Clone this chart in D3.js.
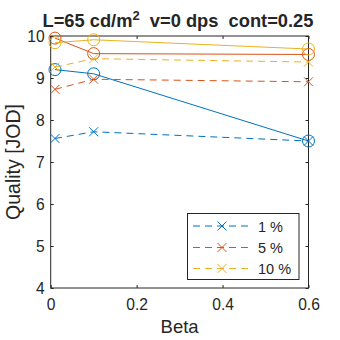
<!DOCTYPE html>
<html><head><meta charset="utf-8">
<script src="https://cdn.jsdelivr.net/npm/d3@7"></script>
<style>body{margin:0;background:#fff}svg{display:block}text{font-family:"Liberation Sans",Arial,sans-serif;fill:#262626}</style>
</head><body>
<svg id="c" width="340" height="340"></svg>
<script>
const betas = [0.01, 0.1, 0.6];
const seriesNames = ["1 %", "5 %", "10 %"];
const colors = ["#0072BD", "#D95319", "#EDB120"];
const solid1 = [9.2, 9.1, 7.5];
const solid5 = [9.95, 9.58, 9.56];
const solid10 = [9.84, 9.91, 9.69];
const dash1 = [7.56, 7.72, 7.5];
const dash5 = [8.73, 8.97, 8.91];
const dash10 = [9.26, 9.46, 9.38];
const xTicks = [0, 0.2, 0.4, 0.6];
const yTicks = [4, 5, 6, 7, 8, 9, 10];
const titleMain = "L=65 cd/m";
const titleSup = "2";
const titleRest = "  v=0 dps  cont=0.25";
const xLabel = "Beta";
const yLabel = "Quality [JOD]";

const svg = d3.select("#c");
const L = 50.7, R = 308.5, T = 36, B = 288;
const x = d3.scaleLinear().domain([0, 0.6]).range([L, R]);
const y = d3.scaleLinear().domain([4, 10]).range([B, T]);

const solids = [solid1, solid5, solid10];
const dashes = [dash1, dash5, dash10];
const line = d3.line().x((d, i) => x(betas[i])).y(d => y(d));
const TF = 15.6;

const ax = svg.append("g");
ax.append("g").attr("transform", `translate(0,${B})`)
  .call(d3.axisBottom(x).tickValues(xTicks).tickSizeInner(-3).tickSizeOuter(0).tickPadding(11).tickFormat(d3.format("")))
  .call(g => { g.select(".domain").remove(); g.selectAll("text").attr("font-size", TF).attr("fill", "#262626"); g.selectAll("line").attr("stroke", "#262626"); });
ax.append("g").attr("transform", `translate(0,${T})`)
  .call(d3.axisTop(x).tickValues(xTicks).tickSizeInner(-3).tickSizeOuter(0).tickFormat(""))
  .call(g => { g.select(".domain").remove(); g.selectAll("line").attr("stroke", "#262626"); });
ax.append("g").attr("transform", `translate(${L},0)`)
  .call(d3.axisLeft(y).tickValues(yTicks).tickSizeInner(-3).tickSizeOuter(0).tickPadding(6).tickFormat(d3.format("d")))
  .call(g => { g.select(".domain").remove(); g.selectAll("text").attr("font-size", TF).attr("fill", "#262626"); g.selectAll("line").attr("stroke", "#262626"); });
ax.append("g").attr("transform", `translate(${R},0)`)
  .call(d3.axisRight(y).tickValues(yTicks).tickSizeInner(-3).tickSizeOuter(0).tickFormat(""))
  .call(g => { g.select(".domain").remove(); g.selectAll("line").attr("stroke", "#262626"); });
ax.append("rect").attr("x", L).attr("y", T).attr("width", R - L).attr("height", B - T)
  .attr("fill", "none").attr("stroke", "#262626").attr("stroke-width", 1);

function cross(g, cx, cy, s, col) {
  g.append("path").attr("d", `M${cx - s},${cy - s}L${cx + s},${cy + s}M${cx - s},${cy + s}L${cx + s},${cy - s}`)
    .attr("stroke", col).attr("stroke-width", 1).attr("fill", "none");
}

const plot = svg.append("g");
[0, 1, 2].forEach(k => {
  const col = colors[k];
  plot.append("path").attr("d", line(solids[k])).attr("fill", "none").attr("stroke", col).attr("stroke-width", 1);
  solids[k].forEach((v, i) => plot.append("circle").attr("cx", x(betas[i])).attr("cy", y(v)).attr("r", 6)
    .attr("fill", "none").attr("stroke", col).attr("stroke-width", 1));
  plot.append("path").attr("d", line(dashes[k])).attr("fill", "none").attr("stroke", col).attr("stroke-width", 1)
    .attr("stroke-dasharray", "7,5");
  dashes[k].forEach((v, i) => cross(plot, x(betas[i]), y(v), 4.5, col));
});

const t = svg.append("text").attr("x", 178).attr("y", 26.5).attr("text-anchor", "middle")
  .attr("font-size", 18.3).attr("font-weight", "bold").style("white-space", "pre");
t.append("tspan").text(titleMain);
t.append("tspan").attr("dy", -7).attr("font-size", 13).text(titleSup);
t.append("tspan").attr("dy", 7).text(titleRest);

svg.append("text").attr("x", (L + R) / 2).attr("y", 333).attr("text-anchor", "middle").attr("font-size", 18.5).text(xLabel);
svg.append("text").attr("transform", `translate(19.5,${(T + B) / 2}) rotate(-90)`).attr("text-anchor", "middle")
  .attr("font-size", 19.5).text(yLabel);

const lg = svg.append("g");
lg.append("rect").attr("x", 187.5).attr("y", 213.5).attr("width", 111.5).attr("height", 66)
  .attr("fill", "#fff").attr("stroke", "#262626").attr("stroke-width", 1);
const ly = [226, 247.5, 268.5];
seriesNames.forEach((n, k) => {
  lg.append("line").attr("x1", 193).attr("x2", 251).attr("y1", ly[k]).attr("y2", ly[k])
    .attr("stroke", colors[k]).attr("stroke-width", 1).attr("stroke-dasharray", "7,5");
  cross(lg, 222, ly[k], 4.5, colors[k]);
  lg.append("text").attr("x", 258).attr("y", ly[k] + 5.5).attr("font-size", 14.5).text(n);
});
</script>
</body></html>
